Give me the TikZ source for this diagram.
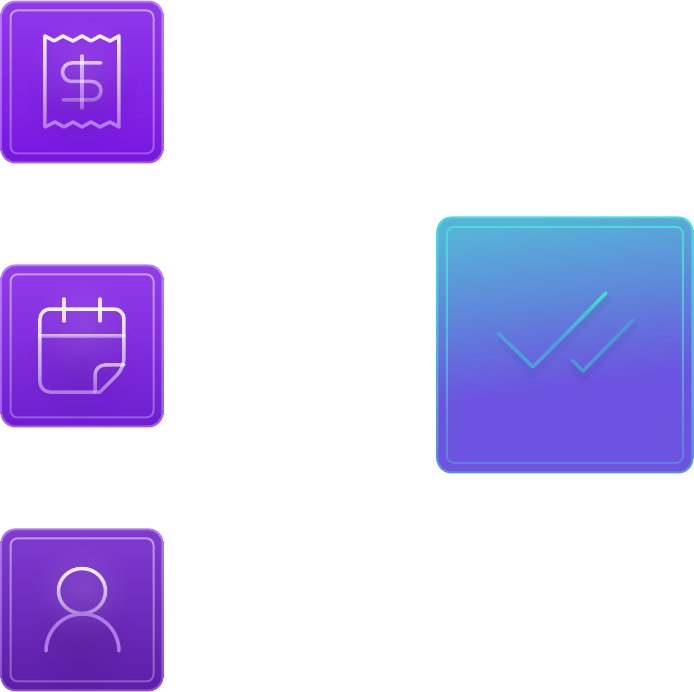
\documentclass[tikz,border=0pt]{standalone}
\usepackage{tikz}
\usetikzlibrary{shapes.geometric, arrows, fadings}
\definecolor{sky}{HTML}{58B2D8}
\definecolor{midblue}{HTML}{5F84DA}
\definecolor{violet}{HTML}{6C54E0}
\definecolor{edgetop}{HTML}{B67CF2}
\definecolor{edgelow}{HTML}{9A5CE6}
\definecolor{persontop}{HTML}{AE78E4}
\definecolor{personlow}{HTML}{8A50CC}
\definecolor{teal}{HTML}{46DED6}
\definecolor{tealblue}{HTML}{5C8CDC}
\definecolor{receipttop}{HTML}{9038EA}
\definecolor{receiptlow}{HTML}{7816E0}
\definecolor{calendartop}{HTML}{923CEA}
\definecolor{calendarlow}{HTML}{6E1ED0}
\definecolor{persontile}{HTML}{803AD0}
\definecolor{personbase}{HTML}{5C1EA8}
\definecolor{checkline}{HTML}{4E9ED8}
\definecolor{checksmall}{HTML}{5096D8}
\definecolor{bodyline}{HTML}{AC7CE2}
\pgfdeclareverticalshading{checkshade}{100bp}{color(0bp)=(violet); color(25bp)=(violet); color(42bp)=(violet); color(58bp)=(midblue); color(75bp)=(sky); color(100bp)=(sky)}
\tikzfading[name=linefade, top color=transparent!5, bottom color=transparent!60]
\tikzfading[name=framefade, top color=transparent!50, bottom color=transparent!72]
\tikzfading[name=checkfade, top color=transparent!0, bottom color=transparent!70]
\tikzfading[name=tipfade, top color=transparent!0, bottom color=transparent!100]
\tikzfading[name=glowfade, inner color=transparent!90, outer color=transparent!100]
\tikzfading[name=darkfade, inner color=transparent!92, outer color=transparent!100]
\tikzstyle{edge} = [rectangle, minimum size=3.26cm, inner sep=0pt, rounded corners=0.3cm, top color=edgetop, bottom color=edgelow]
\tikzstyle{tile} = [rectangle, minimum size=3.18cm, inner sep=0pt, rounded corners=0.27cm]
\tikzstyle{frame} = [rectangle, minimum size=2.86cm, inner sep=0pt, rounded corners=0.14cm, draw=white, line width=0.04cm, path fading=framefade]
\tikzstyle{icon} = [draw=white, line width=0.07cm, line join=round, line cap=round, path fading=linefade]
\tikzstyle{glow} = [white, path fading=glowfade]
\tikzstyle{dark} = [black, path fading=darkfade]
\tikzstyle{tick} = [line width=0.07cm, line join=round, line cap=round]

\begin{document}
\begin{tikzpicture}[x=0.02cm, y=-0.02cm, node distance=5.28cm]
        \useasboundingbox (0,0) rectangle (694,692);

        \node (receipt-edge) [edge] at (82,82) {};
        \node (receipt) [tile, top color=receipttop, bottom color=receiptlow] at (receipt-edge) {};
        \node (receipt-frame) [frame] at (receipt) {};

        \node (calendar-edge) [edge, below of=receipt-edge] {};
        \node (calendar) [tile, top color=calendartop, bottom color=calendarlow] at (calendar-edge) {};
        \node (calendar-frame) [frame] at (calendar) {};

        \node (person-edge) [edge, below of=calendar-edge, top color=persontop, bottom color=personlow] {};
        \node (person) [tile, top color=persontile, bottom color=personbase] at (person-edge) {};
        \node (person-frame) [frame] at (person) {};

        \node (check-edge) [edge, right of=calendar-edge, xshift=4.38cm, yshift=0.02cm, minimum size=5.14cm, top color=teal, bottom color=tealblue] {};
        \node (check) [tile, minimum size=5.06cm, shading=checkshade, shading angle=8] at (check-edge) {};
        \node (check-frame) [frame, minimum size=4.72cm, draw=teal, path fading=checkfade] at (check) {};

        % receipt
        \fill [dark] (82,96) circle [radius=58];
        \fill [glow] (82,68) circle [radius=52];
        \draw [icon] (45,36) -- (54,41) -- (63,36) -- (73,41) -- (82,36) -- (91,41) -- (100,36) -- (110,41) -- (119,36) -- (119,127) -- (110,122) -- (100,127) -- (91,122) -- (82,127) -- (73,122) -- (64,127) -- (55,122) -- (45,127) -- cycle;
        \draw [icon, draw opacity=.75, rounded corners=0.185cm] (101,63) -- (62.5,63) -- (62.5,81.5) -- (101,81.5) -- (101,100) -- (63,100);
        \draw [icon, draw opacity=.75] (82,56) -- (82,108);

        % calendar
        \fill [dark] (82,364) circle [radius=58];
        \fill [glow] (82,330) circle [radius=52];
        \draw [icon, rounded corners=0.2cm] (100,392) -- (40,392) -- (40,309) -- (124,309) -- (124,368) [sharp corners] -- cycle;
        \draw [icon, draw opacity=.7] (40,336) -- (124,336);
        \draw [icon, draw opacity=.7, rounded corners=0.2cm] (95,392) -- (95,365) -- (124,365);
        \draw [line width=0.07cm, line cap=round, white, opacity=.85] (64,299) -- (64,321);
        \draw [line width=0.07cm, line cap=round, white, opacity=.85] (100,299) -- (100,321);

        % person
        \fill [dark] (82,640) circle [radius=52];
        \fill [glow] (82,590) circle [radius=50];
        \draw [icon] (82,568.5) .. controls (95,568.5) and (105.5,578.5) .. (105.5,591) .. controls (105.5,603.5) and (95,613.5) .. (82,613.5) .. controls (69,613.5) and (58.5,603.5) .. (58.5,591) .. controls (58.5,578.5) and (69,568.5) .. (82,568.5) -- cycle;
        \draw [line width=0.07cm, line cap=round, draw=bodyline] (46,651) .. controls (46,631) and (62,614) .. (82.5,614) .. controls (103,614) and (119,631) .. (119,651);

        % check marks
        \draw [tick, black, opacity=.04, line width=0.18cm] (502,340) -- (533,374) -- (606,300);
        \draw [tick, black, opacity=.04, line width=0.18cm] (574,366) -- (583,378) -- (633,327);
        \draw [tick, draw=checkline] (498,333) -- (533,367) -- (606,293);
        \draw [tick, draw=checksmall] (572,360) -- (583,371) -- (633,320);
        \draw [tick, draw=teal, path fading=tipfade] (560,340) -- (606,293);
\end{tikzpicture}
\end{document}
